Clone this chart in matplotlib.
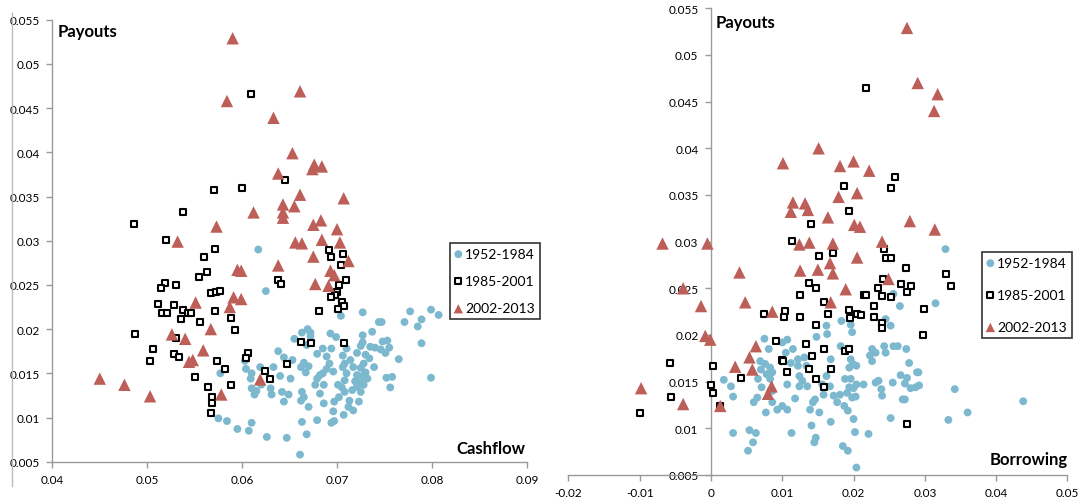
import matplotlib
matplotlib.use('Agg')
import matplotlib.pyplot as plt
from matplotlib.ticker import FuncFormatter, MultipleLocator
from matplotlib.lines import Line2D

# ---- left panel: cashflow vs payouts ----
cf_blue_x = [0.0617, 0.0625, 0.0704, 0.0727, 0.0777, 0.0799, 0.0807, 0.0789, 0.0771, 0.0785,
             0.0744, 0.0747, 0.0737, 0.0789, 0.0765, 0.0799, 0.0756, 0.0758, 0.0752, 0.0753,
             0.0748, 0.0755, 0.0751, 0.0746, 0.0740, 0.0735, 0.0727, 0.0725, 0.0721, 0.0730,
             0.0734, 0.0728, 0.0725, 0.0717, 0.0730, 0.0727, 0.0732, 0.0725, 0.0728, 0.0721,
             0.0725, 0.0723, 0.0717, 0.0713, 0.0708, 0.0702, 0.0707, 0.0705, 0.0708, 0.0710,
             0.0706, 0.0706, 0.0710, 0.0699, 0.0693, 0.0696, 0.0701, 0.0697, 0.0696, 0.0694,
             0.0697, 0.0686, 0.0682, 0.0686, 0.0682, 0.0679, 0.0685, 0.0677, 0.0679, 0.0685,
             0.0679, 0.0668, 0.0663, 0.0669, 0.0672, 0.0672, 0.0670, 0.0665, 0.0662, 0.0667,
             0.0663, 0.0665, 0.0662, 0.0670, 0.0663, 0.0668, 0.0661, 0.0655, 0.0653, 0.0651,
             0.0649, 0.0644, 0.0642, 0.0640, 0.0644, 0.0638, 0.0647, 0.0626, 0.0633, 0.0630,
             0.0631, 0.0620, 0.0619, 0.0615, 0.0613, 0.0610, 0.0609, 0.0610, 0.0604, 0.0603,
             0.0610, 0.0607, 0.0595, 0.0584, 0.0575, 0.0577, 0.0689, 0.0692, 0.0689, 0.0694,
             0.0708, 0.0714, 0.0739, 0.0721, 0.0719, 0.0716, 0.0712, 0.0727]
cf_blue_y = [0.0290, 0.0243, 0.0215, 0.0219, 0.0220, 0.0222, 0.0216, 0.0211, 0.0208, 0.0203,
             0.0208, 0.0208, 0.0197, 0.0184, 0.0166, 0.0145, 0.0134, 0.0146, 0.0145, 0.0187,
             0.0186, 0.0179, 0.0173, 0.0177, 0.0179, 0.0180, 0.0185, 0.0181, 0.0173, 0.0171,
             0.0167, 0.0161, 0.0156, 0.0157, 0.0151, 0.0147, 0.0144, 0.0141, 0.0137, 0.0135,
             0.0129, 0.0118, 0.0108, 0.0119, 0.0129, 0.0123, 0.0103, 0.0134, 0.0142, 0.0150,
             0.0157, 0.0170, 0.0178, 0.0191, 0.0195, 0.0152, 0.0137, 0.0118, 0.0107, 0.0094,
             0.0096, 0.0116, 0.0127, 0.0137, 0.0148, 0.0144, 0.0150, 0.0137, 0.0097, 0.0178,
             0.0172, 0.0182, 0.0196, 0.0200, 0.0196, 0.0192, 0.0158, 0.0162, 0.0157, 0.0151,
             0.0129, 0.0123, 0.0119, 0.0112, 0.0095, 0.0081, 0.0058, 0.0189, 0.0165, 0.0144,
             0.0126, 0.0118, 0.0129, 0.0147, 0.0168, 0.0175, 0.0077, 0.0078, 0.0157, 0.0133,
             0.0126, 0.0137, 0.0157, 0.0130, 0.0126, 0.0133, 0.0144, 0.0150, 0.0155, 0.0164,
             0.0094, 0.0085, 0.0087, 0.0096, 0.0099, 0.0150, 0.0155, 0.0161, 0.0169, 0.0178,
             0.0161, 0.0165, 0.0157, 0.0148, 0.0141, 0.0131, 0.0112, 0.0193]

cf_sq_x = [0.0609, 0.0645, 0.0570, 0.0600, 0.0538, 0.0486, 0.0520, 0.0571, 0.0560, 0.0563,
           0.0555, 0.0519, 0.0515, 0.0530, 0.0567, 0.0572, 0.0577, 0.0511, 0.0528, 0.0516,
           0.0521, 0.0538, 0.0543, 0.0546, 0.0536, 0.0571, 0.0556, 0.0588, 0.0593, 0.0487,
           0.0530, 0.0506, 0.0503, 0.0528, 0.0533, 0.0606, 0.0604, 0.0574, 0.0582, 0.0550,
           0.0564, 0.0588, 0.0568, 0.0568, 0.0567, 0.0624, 0.0629, 0.0647, 0.0662, 0.0673,
           0.0638, 0.0641, 0.0681, 0.0691, 0.0694, 0.0706, 0.0704, 0.0709, 0.0702, 0.0700,
           0.0698, 0.0694, 0.0705, 0.0707, 0.0701, 0.0707]
cf_sq_y = [0.0466, 0.0369, 0.0357, 0.0360, 0.0333, 0.0319, 0.0301, 0.0291, 0.0281, 0.0265,
           0.0259, 0.0252, 0.0246, 0.0250, 0.0241, 0.0242, 0.0243, 0.0228, 0.0227, 0.0218,
           0.0218, 0.0222, 0.0218, 0.0218, 0.0211, 0.0220, 0.0208, 0.0213, 0.0199, 0.0194,
           0.0190, 0.0178, 0.0164, 0.0172, 0.0169, 0.0173, 0.0167, 0.0164, 0.0155, 0.0146,
           0.0134, 0.0137, 0.0123, 0.0116, 0.0105, 0.0153, 0.0144, 0.0160, 0.0185, 0.0184,
           0.0256, 0.0251, 0.0220, 0.0289, 0.0282, 0.0285, 0.0272, 0.0256, 0.0250, 0.0242,
           0.0239, 0.0236, 0.0231, 0.0226, 0.0223, 0.0184]

cf_tri_x = [0.0590, 0.0661, 0.0584, 0.0633, 0.0653, 0.0676, 0.0674, 0.0684, 0.0638, 0.0661,
            0.0707, 0.0643, 0.0655, 0.0643, 0.0643, 0.0612, 0.0573, 0.0675, 0.0683, 0.0700,
            0.0532, 0.0656, 0.0663, 0.0684, 0.0703, 0.0675, 0.0712, 0.0638, 0.0595, 0.0599,
            0.0693, 0.0697, 0.0677, 0.0691, 0.0551, 0.0591, 0.0599, 0.0587, 0.0526, 0.0540,
            0.0567, 0.0559, 0.0544, 0.0548, 0.0450, 0.0476, 0.0503, 0.0578, 0.0619]
cf_tri_y = [0.0529, 0.0469, 0.0458, 0.0439, 0.0399, 0.0386, 0.0381, 0.0384, 0.0376, 0.0352,
            0.0348, 0.0341, 0.0339, 0.0332, 0.0326, 0.0332, 0.0316, 0.0318, 0.0323, 0.0313,
            0.0299, 0.0298, 0.0297, 0.0301, 0.0298, 0.0282, 0.0277, 0.0272, 0.0267, 0.0266,
            0.0266, 0.0261, 0.0251, 0.0249, 0.0230, 0.0236, 0.0234, 0.0225, 0.0194, 0.0189,
            0.0200, 0.0176, 0.0163, 0.0165, 0.0144, 0.0137, 0.0124, 0.0126, 0.0143]

# ---- right panel: borrowing vs payouts ----
br_blue_x = [0.0329, 0.0315, 0.0265, 0.0256, 0.0252, 0.0245, 0.0243, 0.0256, 0.0245, 0.0231,
             0.0226, 0.0223, 0.0226, 0.0274, 0.0278, 0.0266, 0.0275, 0.0272, 0.0291, 0.0292,
             0.0287, 0.0280, 0.0342, 0.0272, 0.0235, 0.0240, 0.0214, 0.0252, 0.0333, 0.0360,
             0.0438, 0.0202, 0.0221, 0.0204, 0.0185, 0.0192, 0.0200, 0.0183, 0.0196, 0.0198,
             0.0162, 0.0163, 0.0148, 0.0182, 0.0196, 0.0199, 0.0204, 0.0194, 0.0188, 0.0196,
             0.0204, 0.0194, 0.0200, 0.0191, 0.0198, 0.0203, 0.0187, 0.0192, 0.0181, 0.0172,
             0.0177, 0.0168, 0.0167, 0.0162, 0.0168, 0.0156, 0.0158, 0.0152, 0.0147, 0.0145,
             0.0141, 0.0143, 0.0146, 0.0139, 0.0135, 0.0124, 0.0128, 0.0124, 0.0115, 0.0131,
             0.0134, 0.0122, 0.0122, 0.0112, 0.0107, 0.0100, 0.0105, 0.0107, 0.0118, 0.0107,
             0.0100, 0.0093, 0.0086, 0.0077, 0.0113, 0.0075, 0.0081, 0.0069, 0.0076, 0.0083,
             0.0070, 0.0078, 0.0086, 0.0066, 0.0071, 0.0065, 0.0086, 0.0083, 0.0060, 0.0018,
             0.0028, 0.0031, 0.0031, 0.0054, 0.0063, 0.0059, 0.0052, 0.0289, 0.0262, 0.0269,
             0.0255, 0.0231, 0.0239]
br_blue_y = [0.0292, 0.0234, 0.0231, 0.0244, 0.0210, 0.0217, 0.0188, 0.0188, 0.0181, 0.0181,
             0.0185, 0.0178, 0.0172, 0.0185, 0.0170, 0.0157, 0.0154, 0.0148, 0.0160, 0.0146,
             0.0144, 0.0143, 0.0142, 0.0131, 0.0151, 0.0135, 0.0147, 0.0111, 0.0109, 0.0117,
             0.0129, 0.0096, 0.0094, 0.0058, 0.0081, 0.0076, 0.0110, 0.0215, 0.0211, 0.0203,
             0.0210, 0.0201, 0.0198, 0.0188, 0.0174, 0.0169, 0.0167, 0.0165, 0.0153, 0.0153,
             0.0147, 0.0144, 0.0143, 0.0138, 0.0133, 0.0134, 0.0124, 0.0119, 0.0136, 0.0135,
             0.0128, 0.0174, 0.0145, 0.0156, 0.0107, 0.0147, 0.0136, 0.0117, 0.0090, 0.0085,
             0.0103, 0.0128, 0.0131, 0.0120, 0.0145, 0.0145, 0.0151, 0.0156, 0.0185, 0.0176,
             0.0167, 0.0167, 0.0174, 0.0170, 0.0195, 0.0192, 0.0181, 0.0147, 0.0132, 0.0120,
             0.0124, 0.0120, 0.0128, 0.0117, 0.0095, 0.0196, 0.0185, 0.0172, 0.0169, 0.0165,
             0.0163, 0.0158, 0.0160, 0.0153, 0.0144, 0.0133, 0.0140, 0.0153, 0.0128, 0.0152,
             0.0145, 0.0134, 0.0095, 0.0098, 0.0095, 0.0085, 0.0076, 0.0160, 0.0188, 0.0131,
             0.0149, 0.0149, 0.0142]

br_sq_x = [0.0218, 0.0258, 0.0252, 0.0186, 0.0193, 0.0141, 0.0114, 0.0243, 0.0151, 0.0171,
           0.0245, 0.0252, 0.0274, 0.0329, 0.0242, 0.0337, 0.0138, 0.0148, 0.0235, 0.0267,
           0.0281, 0.0275, 0.0125, 0.0214, 0.0217, 0.0240, 0.0252, 0.0159, 0.0229, 0.0299,
           0.0075, 0.0104, 0.0102, 0.0125, 0.0164, 0.0194, 0.0195, 0.0205, 0.0211, 0.0228,
           0.0240, 0.0240, 0.0147, 0.0297, 0.0091, 0.0134, 0.0158, 0.0188, 0.0193, 0.0100,
           0.0101, 0.0142, 0.0106, 0.0138, 0.0168, 0.0148, 0.0158, 0.0042, 0.0003, -0.0057,
           0.0000, 0.0003, -0.0056, -0.0100, 0.0013, 0.0275]
br_sq_y = [0.0465, 0.0369, 0.0357, 0.0360, 0.0333, 0.0319, 0.0301, 0.0292, 0.0285, 0.0288,
           0.0282, 0.0282, 0.0272, 0.0265, 0.0260, 0.0253, 0.0256, 0.0250, 0.0250, 0.0255,
           0.0252, 0.0246, 0.0243, 0.0243, 0.0243, 0.0242, 0.0241, 0.0235, 0.0231, 0.0228,
           0.0223, 0.0226, 0.0219, 0.0219, 0.0222, 0.0227, 0.0218, 0.0223, 0.0221, 0.0219,
           0.0213, 0.0208, 0.0211, 0.0200, 0.0194, 0.0190, 0.0185, 0.0183, 0.0185, 0.0173,
           0.0172, 0.0178, 0.0160, 0.0164, 0.0164, 0.0153, 0.0144, 0.0154, 0.0167, 0.0170,
           0.0146, 0.0138, 0.0134, 0.0116, 0.0124, 0.0105]

br_tri_x = [0.0275, 0.0290, 0.0318, 0.0313, 0.0151, 0.0101, 0.0200, 0.0181, 0.0222, 0.0205,
            0.0179, 0.0115, 0.0132, 0.0112, 0.0136, 0.0164, 0.0201, 0.0209, 0.0279, 0.0314,
            -0.0068, -0.0005, 0.0124, 0.0138, 0.0171, 0.0240, 0.0205, 0.0167, 0.0125, 0.0150,
            0.0171, 0.0040, 0.0249, -0.0039, 0.0189, 0.0048, 0.0168, -0.0014, 0.0086, -0.0008,
            -0.0001, 0.0063, 0.0054, 0.0034, 0.0058, 0.0085, 0.0080, -0.0098, -0.0039, 0.0013]
br_tri_y = [0.0529, 0.0470, 0.0458, 0.0440, 0.0400, 0.0384, 0.0386, 0.0381, 0.0376, 0.0352,
            0.0348, 0.0342, 0.0341, 0.0332, 0.0334, 0.0326, 0.0318, 0.0316, 0.0322, 0.0313,
            0.0298, 0.0298, 0.0297, 0.0299, 0.0298, 0.0300, 0.0283, 0.0277, 0.0269, 0.0270,
            0.0266, 0.0267, 0.0260, 0.0250, 0.0249, 0.0235, 0.0235, 0.0231, 0.0225, 0.0199,
            0.0195, 0.0188, 0.0176, 0.0166, 0.0163, 0.0145, 0.0137, 0.0143, 0.0126, 0.0124]

labels = ['1952-1984', '1985-2001', '2002-2013']
blue = '#7cb9cf'
red = '#bd5f58'
spine_col = '#9a9a9a'

plt.rcParams['font.family'] = ['Lato', 'DejaVu Sans']

W, H = 1085, 502
fig = plt.figure(figsize=(W / 100, H / 100), dpi=100)
# axes boxes measured in pixels of the reference
ax1 = fig.add_axes([52.3 / W, 1 - 462.7 / H, 474.6 / W, 442 / H])
ax2 = fig.add_axes([568.4 / W, 1 - 476 / H, 499 / W, 466.7 / H])

fmt = FuncFormatter(lambda v, p: f'{v:.3f}'.rstrip('0').rstrip('.') if abs(v) > 1e-9 else '0')


def draw(ax, bx, by, sx, sy, tx, ty, anchor, spacing):
    ax.scatter(bx, by, s=32, color=blue, edgecolors='none', label=labels[0], zorder=2)
    ax.scatter(sx, sy, s=20, marker='s', facecolors='white', edgecolors='black',
               linewidths=1.5, label=labels[1], zorder=3)
    ax.scatter(tx, ty, s=80, marker='^', color=red, edgecolors='none', label=labels[2], zorder=4)
    for s in ['top', 'right']:
        ax.spines[s].set_visible(False)
    for s in ['left', 'bottom']:
        ax.spines[s].set_color(spine_col)
        ax.spines[s].set_linewidth(1.0)
    ax.tick_params(colors=spine_col, labelcolor='black', labelsize=8.5, length=4, width=1, pad=5)
    ax.yaxis.set_major_locator(MultipleLocator(0.005))
    ax.xaxis.set_major_locator(MultipleLocator(0.01))
    ax.xaxis.set_major_formatter(fmt)
    ax.yaxis.set_major_formatter(fmt)
    ax.set_ylim(0.005, 0.055)
    leg = ax.legend(loc='upper left', bbox_to_anchor=(anchor[0] / W, 1 - anchor[1] / H),
                    bbox_transform=fig.transFigure, borderaxespad=0, frameon=True,
                    fancybox=False, fontsize=10, handletextpad=0.25, borderpad=0.35,
                    labelspacing=spacing, handlelength=0.5, edgecolor='black')
    leg.get_frame().set_linewidth(1.2)
    leg.legend_handles[2].set_sizes([45])
    return leg


draw(ax1, cf_blue_x, cf_blue_y, cf_sq_x, cf_sq_y, cf_tri_x, cf_tri_y, (450, 244), 1.1)
ax1.set_xlim(0.04, 0.09)

draw(ax2, br_blue_x, br_blue_y, br_sq_x, br_sq_y, br_tri_x, br_tri_y, (982, 253), 1.45)
ax2.set_xlim(-0.02, 0.05)
ax2.spines['left'].set_position(('data', 0))

fig.text(58 / W, 1 - 32 / H, 'Payouts', fontsize=12, fontweight='bold', va='center')
fig.text(456 / W, 1 - 449 / H, 'Cashflow', fontsize=12, fontweight='bold', va='center')
fig.text(716 / W, 1 - 23 / H, 'Payouts', fontsize=12, fontweight='bold', va='center')
fig.text(990 / W, 1 - 460 / H, 'Borrowing', fontsize=12, fontweight='bold', va='center')

# thin border line at far left of the first chart
fig.add_artist(Line2D([12 / W, 12 / W], [1 - 487 / H, 1 - 14 / H], color='#bbbbbb', linewidth=1))

fig.savefig('out.png', dpi=100)
